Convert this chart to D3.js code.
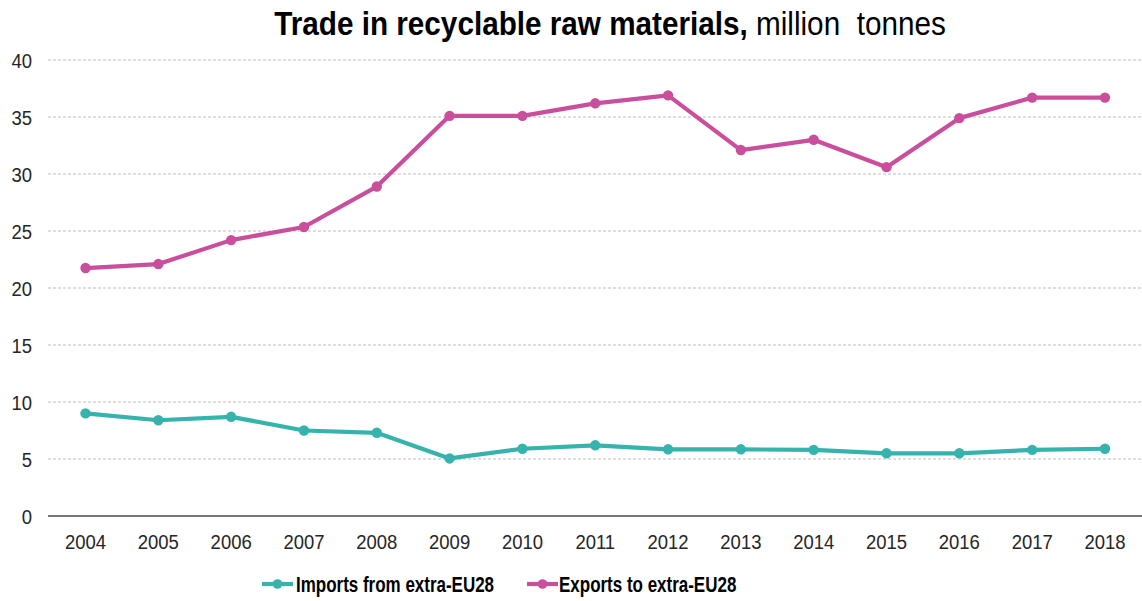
<!DOCTYPE html>
<html><head><meta charset="utf-8">
<script src="https://cdn.jsdelivr.net/npm/d3@7"></script>
<style>
body{margin:0;background:#fff;}
svg{display:block;font-family:"Liberation Sans Narrow","Arial Narrow","Liberation Sans",Arial,sans-serif;}
</style></head><body>
<svg id="c" width="1142" height="601"></svg>
<script>
const years = [2004,2005,2006,2007,2008,2009,2010,2011,2012,2013,2014,2015,2016,2017,2018];
const imports = [9.0,8.4,8.7,7.5,7.3,5.05,5.9,6.2,5.85,5.85,5.8,5.5,5.5,5.8,5.9];
const exports_ = [21.75,22.1,24.2,25.35,28.9,35.1,35.1,36.2,36.9,32.1,33.0,30.6,34.9,36.7,36.7];
const yTicks = [0,5,10,15,20,25,30,35,40];
const seriesNames = ["Imports from extra-EU28","Exports to extra-EU28"];
const colors = ["#36b3ad","#c94f9c"];

const svg = d3.select("#c");
const x = d3.scaleBand().domain(years).range([49.1,1141.4]).padding(0);
const y = d3.scaleLinear().domain([0,40]).range([516,60]);
const cx = d => x(d) + x.bandwidth()/2;

// gridlines
svg.append("g").selectAll("line").data(yTicks.filter(t=>t>0)).join("line")
  .attr("x1",48).attr("x2",1142).attr("y1",d=>y(d)).attr("y2",d=>y(d))
  .attr("stroke","#bdbdbd").attr("stroke-width",1).attr("stroke-dasharray","3,2");

// y axis labels
const yAxis = d3.axisLeft(y).tickValues(yTicks).tickSize(0).tickPadding(0);
const gy = svg.append("g").attr("transform","translate(32,0)").call(yAxis);
gy.select(".domain").remove();
gy.selectAll("text").attr("font-size",21).attr("fill","#262626").attr("font-family",null)
  .attr("dy","0.36em").attr("transform","scale(0.88,1)");

// x axis
const xAxis = d3.axisBottom(x).tickSize(0).tickPadding(0);
const gx = svg.append("g").attr("transform","translate(0,516)").call(xAxis);
gx.select(".domain").remove();
gx.selectAll("text").attr("font-size",21).attr("fill","#262626").attr("font-family",null)
  .attr("dy","0").attr("y",33).attr("transform","scale(0.88,1)");
svg.append("line").attr("x1",48).attr("x2",1142).attr("y1",y(0)).attr("y2",y(0)).attr("stroke","#4a4a4a").attr("stroke-width",1.5);

// lines
const line = d3.line().x((d,i)=>cx(years[i])).y(d=>y(d));
[imports, exports_].forEach((s,k)=>{
  svg.append("path").datum(s).attr("d",line).attr("fill","none")
    .attr("stroke",colors[k]).attr("stroke-width",4.2).attr("stroke-linejoin","round");
  svg.append("g").selectAll("circle").data(s).join("circle")
    .attr("cx",(d,i)=>cx(years[i])).attr("cy",d=>y(d)).attr("r",5.2).attr("fill",colors[k]);
});

// title
const tg = svg.append("g").attr("transform","translate(610,35) scale(0.9,1)");
const t = tg.append("text").attr("x",0).attr("y",0).attr("text-anchor","middle").attr("font-size",33).attr("fill","#000");
t.append("tspan").attr("font-weight","bold").text("Trade in recyclable raw materials,");
t.append("tspan").text(" million\u00a0 tonnes");

// legend
const leg = [{x0:262, tx:296},{x0:527, tx:559}];
seriesNames.forEach((n,k)=>{
  const g = svg.append("g");
  g.append("line").attr("x1",leg[k].x0).attr("x2",leg[k].x0+31).attr("y1",584).attr("y2",584).attr("stroke",colors[k]).attr("stroke-width",4.2);
  g.append("circle").attr("cx",leg[k].x0+15.5).attr("cy",584).attr("r",4.8).attr("fill",colors[k]);
  g.append("g").attr("transform",`translate(${leg[k].tx},592) scale(0.79,1)`)
    .append("text").attr("x",0).attr("y",0).attr("font-size",21.5).attr("font-weight","bold").attr("fill","#000").text(n);
});
</script></body></html>
